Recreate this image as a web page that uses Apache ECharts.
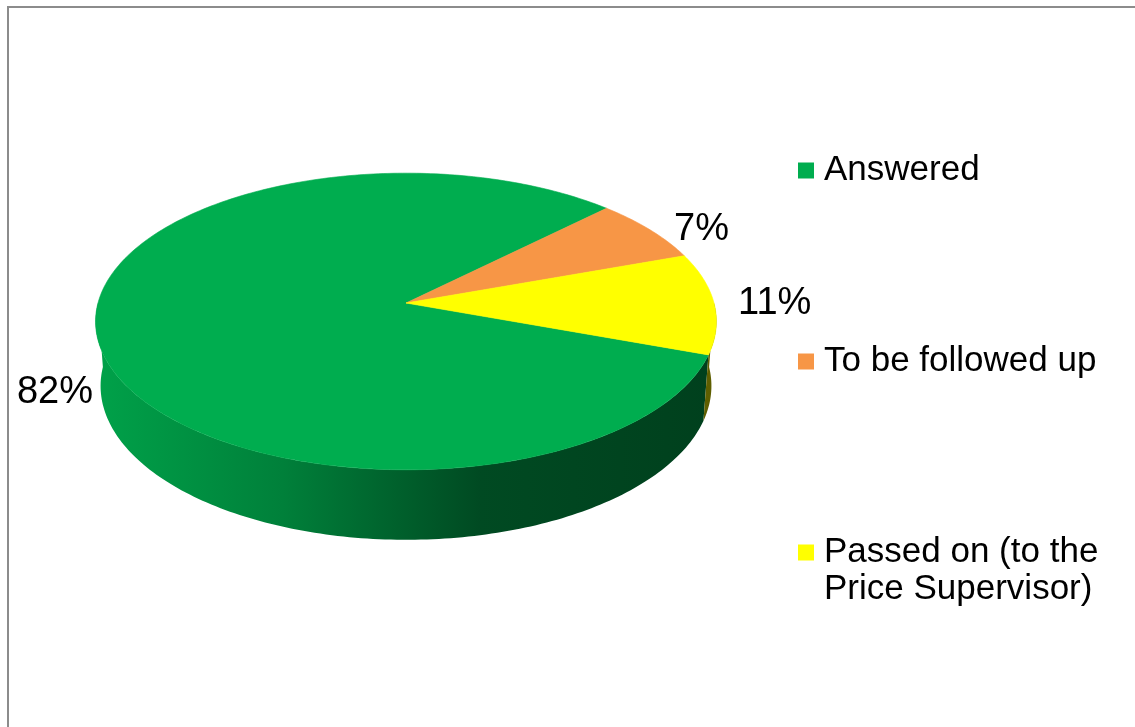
<!DOCTYPE html>
<html>
<head>
<meta charset="utf-8">
<script src="https://cdn.jsdelivr.net/npm/echarts@6/dist/echarts.min.js"></script>
<style>
  html, body { margin: 0; padding: 0; background: #fff; overflow: hidden; }
  #frame { position: absolute; left: 7px; top: 6px; width: 1300px; height: 900px;
           border-left: 2px solid #8c8c8c; border-top: 2px solid #8c8c8c; box-sizing: border-box; }
  #main { position: absolute; left: 0; top: 0; width: 1135px; height: 727px; }
</style>
</head>
<body>
<div id="frame"></div>
<div id="main"></div>
<script>
// ---- data ----
const categories = ['Answered', 'To be followed up', 'Passed on (to the\nPrice Supervisor)'];
const values = [82, 7, 11];
const colors = ['#00AD4F', '#F79646', '#FFFF00'];

// ---- 3D pie geometry (layout, not data) ----
const GEO = { cx: 406, cy: 303, s: 308, tilt: 28.3, dist: 7.067, depth: 0.24, startDeg: 19.9 };
const sinA = Math.sin(GEO.tilt * Math.PI / 180);
const cosA = Math.cos(GEO.tilt * Math.PI / 180);
const FONT = '"Liberation Sans", Arial, Helvetica, sans-serif';

function proj(r, phiDeg, h) {
  const p = phiDeg * Math.PI / 180;
  const X = r * Math.cos(p), Y = r * Math.sin(p);
  const z = GEO.dist - Y * cosA - h * sinA;
  const f = GEO.dist / z;
  return [GEO.cx + GEO.s * X * f, GEO.cy + GEO.s * (Y * sinA - h * cosA) * f];
}
function arc(a0, a1, h) {
  const n = Math.max(2, Math.ceil(Math.abs(a1 - a0)));
  const pts = [];
  for (let i = 0; i <= n; i++) pts.push(proj(1, a0 + (a1 - a0) * i / n, h));
  return pts;
}
function shade(hex, f) {
  const n = parseInt(hex.slice(1), 16);
  const r = (n >> 16) & 255, g = (n >> 8) & 255, b = n & 255;
  return 'rgb(' + Math.round(r * f) + ',' + Math.round(g * f) + ',' + Math.round(b * f) + ')';
}
function wallFill(hex) {
  return {
    type: 'linear', global: true,
    x: GEO.cx - GEO.s, y: 0, x2: GEO.cx + GEO.s, y2: 0,
    colorStops: [
      { offset: 0, color: shade(hex, 0.93) },
      { offset: 0.3, color: shade(hex, 0.74) },
      { offset: 0.62, color: shade(hex, 0.43) },
      { offset: 1, color: shade(hex, 0.37) }
    ]
  };
}

function renderSlice(params, api) {
  const idx = params.seriesIndex;
  const total = values.reduce((a, b) => a + b, 0);
  let before = 0;
  for (let i = 0; i < idx; i++) before += values[i];
  const v = api.value(0);
  const a0 = GEO.startDeg + before / total * 360;
  const a1 = a0 + v / total * 360;
  const color = colors[idx];
  const children = [];
  // visible front walls
  [-1, 0, 1].forEach(k => {
    const lo = Math.max(a0, 360 * k), hi = Math.min(a1, 360 * k + 180);
    if (hi > lo) {
      const top = arc(lo, hi, 0), bot = arc(hi, lo, -GEO.depth);
      children.push({
        type: 'polygon', z2: 1,
        shape: { points: top.concat(bot) },
        style: { fill: wallFill(color) }
      });
    }
  });
  // top face
  children.push({
    type: 'polygon', z2: 5,
    shape: { points: [[GEO.cx, GEO.cy]].concat(arc(a0, a1, 0)) },
    style: { fill: color, stroke: color, lineWidth: 0.6 }
  });
  // data label
  const mid = (a0 + a1) / 2;
  const pm = mid * Math.PI / 180;
  const T = proj(1, mid, 0), B = proj(1, mid, -GEO.depth);
  let x, y, align;
  if (Math.cos(pm) >= 0) { align = 'left'; x = Math.max(T[0], B[0]) + 24; }
  else { align = 'right'; x = Math.min(T[0], B[0]) - 4; }
  y = Math.sin(pm) > 0.15 ? B[1] - 8 : T[1];
  children.push({
    type: 'text', z2: 10, x: x, y: y,
    style: {
      text: Math.round(v / total * 100) + '%',
      fill: '#000', fontSize: 38, fontFamily: FONT,
      align: align, verticalAlign: 'middle'
    }
  });
  return { type: 'group', children: children };
}

const legendBase = {
  orient: 'vertical', left: 798, padding: 0, itemGap: 0,
  itemWidth: 16, itemHeight: 16, icon: 'rect', selectedMode: false,
  textStyle: { fontSize: 35, fontFamily: FONT, color: '#000', lineHeight: 37, padding: [0, 0, 0, 5] }
};

const chart = echarts.init(document.getElementById('main'), null, { renderer: 'canvas' });
chart.setOption({
  animation: false,
  backgroundColor: 'transparent',
  color: colors,
  legend: [
    Object.assign({}, legendBase, { data: [categories[0]], top: 152 }),
    Object.assign({}, legendBase, { data: [categories[1]], top: 343 }),
    Object.assign({}, legendBase, {
      data: [{ name: categories[2], icon: 'path://M0,0L16,0L16,16L0,16Z M0,52.95L0.01,52.95L0.01,53L0,53Z' }],
      itemHeight: 53, top: 534
    })
  ],
  series: categories.map((name, i) => ({
    type: 'custom', name: name, coordinateSystem: 'none',
    renderItem: renderSlice, silent: true,
    itemStyle: { color: colors[i] },
    data: [[values[i]]]
  }))
});
</script>
</body>
</html>
